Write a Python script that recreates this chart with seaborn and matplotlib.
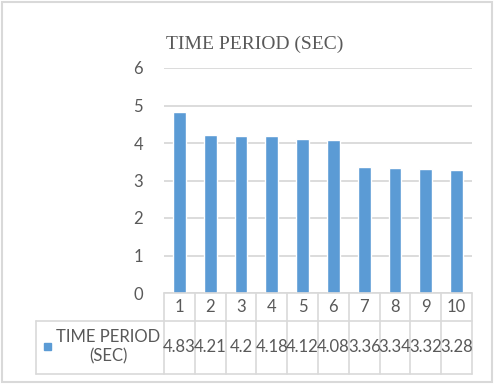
import matplotlib
matplotlib.use("Agg")
import matplotlib.pyplot as plt
import matplotlib.transforms as mtransforms
from matplotlib.patches import Rectangle
from matplotlib.lines import Line2D
import seaborn as sns
import pandas as pd

categories = ["1", "2", "3", "4", "5", "6", "7", "8", "9", "10"]
values = [4.83, 4.21, 4.2, 4.18, 4.12, 4.08, 3.36, 3.34, 3.32, 3.28]
value_labels = ["4.83", "4.21", "4.2", "4.18", "4.12", "4.08", "3.36", "3.34", "3.32", "3.28"]
series_name = "TIME PERIOD (SEC)"
y_ticks = [0, 1, 2, 3, 4, 5, 6]

sns.set_theme(style="white")
plt.rcParams['font.family'] = ['Lato', 'DejaVu Sans']

W, H = 495, 386
fig = plt.figure(figsize=(W / 100, H / 100), dpi=100)
fig.patch.set_facecolor("white")

def fx(px):
    return px / W

def fy(py):
    return 1 - py / H

left, right, top, bottom = 164, 472, 68, 293
ax = fig.add_axes([fx(left), fy(bottom), fx(right) - fx(left), fy(top) - fy(bottom)])

df = pd.DataFrame({"cat": categories, "val": values})
bar_color = "#5B9BD5"
sns.barplot(data=df, x="cat", y="val", color=bar_color, width=0.42,
            saturation=1, ax=ax, zorder=3)

ax.set_ylim(0, 6)
ax.set_xlim(-0.5, len(categories) - 0.5)
ax.set_yticks(y_ticks)
ax.set_yticklabels([str(t) for t in y_ticks])
ax.yaxis.grid(True, color="#D9D9D9", linewidth=1.3, zorder=0)
ax.set_axisbelow(True)
for s in ax.spines.values():
    s.set_visible(False)
ax.tick_params(axis="y", length=0, pad=15, labelsize=12, labelcolor="#595959")
ax.tick_params(axis="x", length=0, labelbottom=False)
ax.set_xlabel("")
ax.set_ylabel("")

text_color = "#595959"
line_color = "#D9D9D9"
fs = 12

# Title
fig.text(fx(255), fy(44), series_name, ha="center", va="center",
         fontsize=14, color=text_color, family=["Liberation Serif", "DejaVu Serif"])

# Data table
row1_top, row1_bot, row2_bot = 293, 321, 374
table_left = 36
lw = 1.2
fig.add_artist(Line2D([fx(left), fx(right)], [fy(row1_top), fy(row1_top)], color=line_color, lw=lw))
fig.add_artist(Line2D([fx(table_left), fx(right)], [fy(row1_bot), fy(row1_bot)], color=line_color, lw=lw))
fig.add_artist(Line2D([fx(table_left), fx(right)], [fy(row2_bot), fy(row2_bot)], color=line_color, lw=lw))
fig.add_artist(Line2D([fx(table_left), fx(table_left)], [fy(row1_bot), fy(row2_bot)], color=line_color, lw=lw))

blend = mtransforms.blended_transform_factory(ax.transData, fig.transFigure)
for i in range(len(categories) + 1):
    xpos = i - 0.5
    fig.add_artist(Line2D([xpos, xpos], [fy(row1_top), fy(row2_bot)], color=line_color,
                          lw=lw, transform=blend))

for i, (c, v) in enumerate(zip(categories, value_labels)):
    fig.text(i, fy(307.5), c, transform=blend, ha="center", va="center",
             fontsize=fs, color=text_color)
    fig.text(i, fy(347), v, transform=blend, ha="center", va="center",
             fontsize=fs, color=text_color)

# Legend key in table
fig.add_artist(Rectangle((fx(44), fy(349.5)), fx(7), fy(342.5) - fy(349.5),
                         transform=fig.transFigure, color=bar_color))
fig.text(fx(108), fy(337), "TIME PERIOD", ha="center", va="center",
         fontsize=fs, color=text_color)
fig.text(fx(108), fy(356), "(SEC)", ha="center", va="center",
         fontsize=fs, color=text_color)

# Outer chart border
fig.add_artist(Rectangle((fx(2), fy(382)), fx(490), fy(2) - fy(382),
                         transform=fig.transFigure, fill=False,
                         edgecolor="#D9D9D9", lw=1.5))

fig.savefig("out.png", dpi=100, facecolor="white")
